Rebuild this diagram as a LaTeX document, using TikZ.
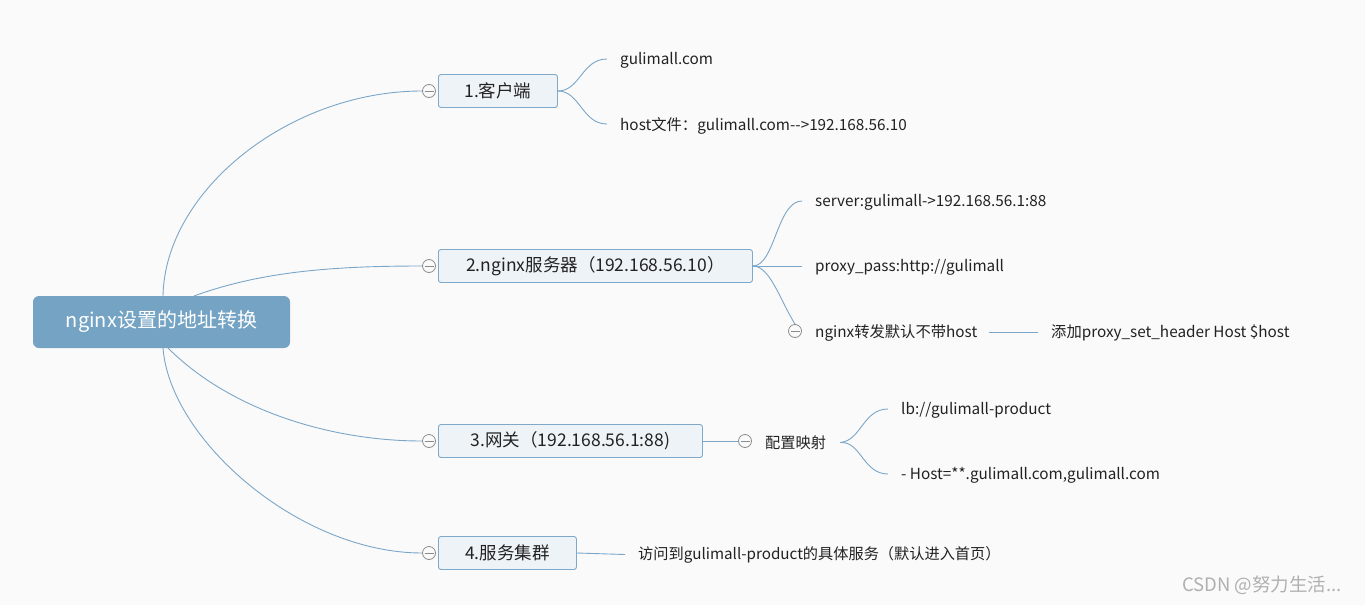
\documentclass[tikz,border=0pt]{standalone}
\usepackage{fontspec}
\setmainfont{Noto Sans CJK SC}
\usetikzlibrary{calc}
\definecolor{bg}{HTML}{FAFAFA}
\definecolor{lineblue}{HTML}{7BA6C8}
\definecolor{boxborder}{HTML}{7FA9CB}
\definecolor{boxfill}{HTML}{EEF3F7}
\definecolor{rootfill}{HTML}{74A3C4}
\definecolor{textcol}{HTML}{222222}
\definecolor{foldgray}{HTML}{8C8C8C}
\definecolor{wmark}{HTML}{B0B0B0}
\begin{document}
\begin{tikzpicture}[x=1pt,y=-1pt,
  conn/.style={draw=lineblue, line width=0.9pt},
  topic/.style={draw=boxborder, fill=boxfill, rounded corners=2.5pt, line width=0.9pt,
    minimum height=33pt, inner sep=0pt, anchor=west, font=\fontsize{17.5}{19}\selectfont, text=textcol},
  leaf/.style={anchor=west, inner sep=0pt, yshift=-1.5pt, font=\fontsize{15.3}{17}\selectfont, text=textcol},
  smallleaf/.style={leaf, font=\fontsize{15.2}{17}\selectfont},
  fold/.style={circle, draw=foldgray, fill=bg, minimum size=13pt, inner sep=0pt, line width=0.8pt,
    path picture={\draw[foldgray, line width=0.9pt]
      ([xshift=-4.5pt]path picture bounding box.center) -- ([xshift=4.5pt]path picture bounding box.center);}}
]
\fill[bg] (0,0) rectangle (1365,605);
\useasboundingbox (0,0) rectangle (1365,605);

% root
\node[fill=rootfill, rounded corners=6pt, minimum width=257pt, minimum height=52pt, inner sep=0pt,
  text=white, font=\fontsize{20}{22}\selectfont] (root) at (161.5,322) {nginx设置的地址转换};
\coordinate (r1) at (163,296);
\coordinate (r2) at (194,296);
\coordinate (r3) at (168,348);
\coordinate (r4) at (163,348);

% main topics
\node[topic, minimum width=119pt] (n1) at (438,91) {1.客户端};
\node[topic, minimum width=314pt] (n2) at (438,266) {2.nginx服务器（192.168.56.10）};
\node[topic, minimum width=264pt] (n3) at (438,441) {3.网关（192.168.56.1:88)};
\node[topic, minimum width=138pt] (n4) at (438,553) {4.服务集群};

\node[fold] (f1) at (429,91) {};
\node[fold] (f2) at (429,266) {};
\node[fold] (f3) at (429,441) {};
\node[fold] (f4) at (429,553) {};

% root connectors
\draw[conn] (r1) .. controls (165,190) and (290,91) .. (f1.west);
\draw[conn] (r2) .. controls (260,272) and (330,266) .. (f2.west);
\draw[conn] (r3) .. controls (230,410) and (330,441) .. (f3.west);
\draw[conn] (r4) .. controls (170,440) and (300,553) .. (f4.west);

% topic 1 children
\coordinate (c11) at (607,59);
\coordinate (c12) at (607,124);
\node[leaf] (t11) at (620,59) {gulimall.com};
\node[leaf] (t12) at (620,124) {host文件：gulimall.com-{}-{}>192.168.56.10};
\draw[conn] (n1.east) .. controls (580,91) and (582,59) .. (c11);
\draw[conn] (n1.east) .. controls (580,91) and (582,124) .. (c12);

% topic 2 children
\coordinate (c21) at (802,201);
\coordinate (c22) at (802,266);
\node[leaf] (t21) at (815,201) {server:gulimall-{}>192.168.56.1:88};
\node[leaf] (t22) at (815,266) {proxy\_pass:http://gulimall};
\node[fold] (f23) at (795,331) {};
\node[leaf] (t23) at (815,331) {nginx转发默认不带host};
\node[leaf] (t231) at (1051,331) {添加proxy\_set\_header Host \$host};
\draw[conn] (n2.east) .. controls (775,266) and (777,201) .. (c21);
\draw[conn] (n2.east) -- (c22);
\draw[conn] (n2.east) .. controls (770,266) and (780,300) .. (f23.north);
\draw[conn] ([xshift=12pt]t23.east) -- ([xshift=-13pt]t231.west);

% topic 3 children
\node[fold] (f3a) at (745,441) {};
\node[smallleaf] (t3) at (765,441) {配置映射};
\draw[conn] (n3.east) -- (f3a.west);
\coordinate (c31) at (888,409);
\coordinate (c32) at (888,474);
\node[leaf] (t31) at (901,409) {lb://gulimall-product};
\node[leaf] (t32) at (901,474) {- Host=**.gulimall.com,gulimall.com};
\draw[conn] ([xshift=14pt]t3.east) .. controls (861,441) and (863,409) .. (c31);
\draw[conn] ([xshift=14pt]t3.east) .. controls (861,441) and (863,474) .. (c32);

% topic 4 child
\node[smallleaf] (t4) at (638,553) {访问到gulimall-product的具体服务（默认进入首页）};
\draw[conn] (n4.east) -- ([xshift=-13pt]t4.west);

% watermark
\node[anchor=west, inner sep=0pt, text=wmark, font=\fontsize{18.5}{20}\selectfont] (wm) at (1182,585) {CSDN @努力生活...};
\end{tikzpicture}
\end{document}
